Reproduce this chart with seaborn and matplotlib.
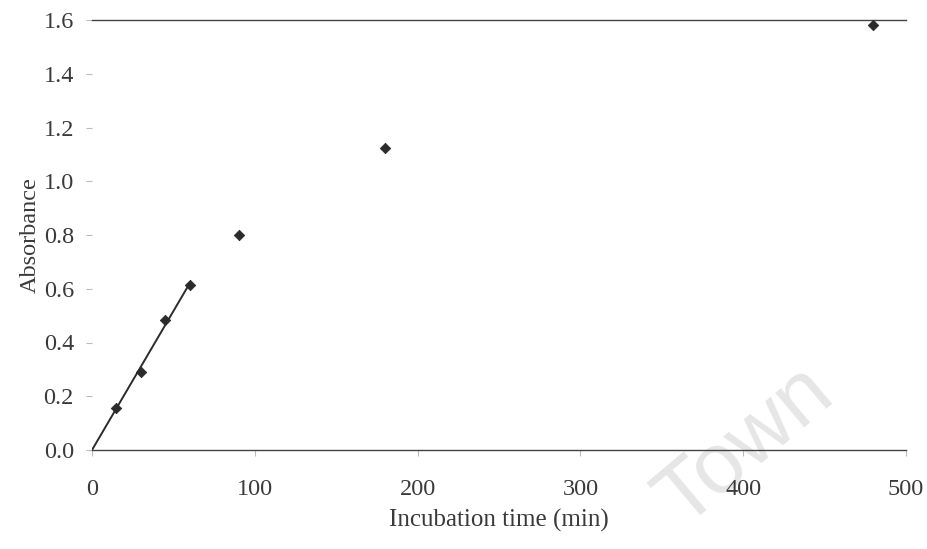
import matplotlib
matplotlib.use("Agg")
import matplotlib.pyplot as plt
import seaborn as sns
import pandas as pd

time_min = [15, 30, 45, 60, 90, 180, 480]
absorbance = [0.155, 0.29, 0.485, 0.615, 0.80, 1.125, 1.58]
fit_x = [0, 60]
fit_y = [0, 0.62]
x_ticks = [0, 100, 200, 300, 400, 500]
y_ticks = [0.0, 0.2, 0.4, 0.6, 0.8, 1.0, 1.2, 1.4, 1.6]

sns.set_theme(style="white")
plt.rcParams['font.family'] = ['Liberation Serif', 'DejaVu Serif']

fig = plt.figure(figsize=(9.27, 5.49), dpi=100)
ax = fig.add_axes([92 / 927, 1 - 450 / 549, 814 / 927, 430 / 549])
ax.patch.set_alpha(0)

df = pd.DataFrame({"t": time_min, "a": absorbance})
fit = pd.DataFrame({"t": fit_x, "a": fit_y})

sns.lineplot(data=fit, x="t", y="a", ax=ax, color="#2b2b2b", linewidth=1.4)
sns.scatterplot(data=df, x="t", y="a", ax=ax, marker="D", s=28, color="#2b2b2b",
                edgecolor="#2b2b2b", linewidth=0.6, zorder=5)

ax.set_xlim(0, 500)
ax.set_ylim(0, 1.6)
ax.set_xticks(x_ticks)
ax.set_yticks(y_ticks)
ax.set_yticklabels([f"{v:.1f}" for v in y_ticks])

for s in ["left", "right"]:
    ax.spines[s].set_visible(False)
for s in ["bottom", "top"]:
    ax.spines[s].set_color("#444444")
    ax.spines[s].set_linewidth(1.0)

ax.tick_params(axis="both", which="both", labelsize=17.5, colors="#bbbbbb",
               labelcolor="#3a3a3a", length=4, width=0.8)
ax.tick_params(axis="y", left=True, pad=9)
ax.tick_params(axis="x", bottom=True, pad=17)

ax.set_xlabel("Incubation time (min)", fontsize=18, color="#3a3a3a", labelpad=6)
ax.set_ylabel("Absorbance", fontsize=17.5, color="#3a3a3a", labelpad=2)

px, py = 682 / 927, 1 - 528 / 549
fig.text(px, py, "Town", fontsize=62, color="#e6e6e6", rotation=40,
         rotation_mode="anchor", ha="left", va="baseline",
         family="Liberation Sans", zorder=-1)

fig.savefig("out.png", dpi=100, facecolor="white")
